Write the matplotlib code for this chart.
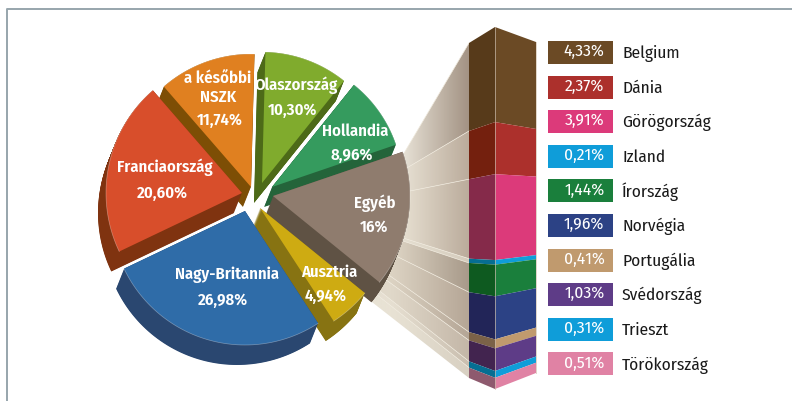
import numpy as np
import matplotlib
matplotlib.use('Agg')
import matplotlib.pyplot as plt
from matplotlib.colors import LinearSegmentedColormap
from matplotlib.patches import Polygon

plt.rcParams['font.family'] = ['Fira Sans Condensed', 'Noto Sans', 'DejaVu Sans']

# main pie, counter clockwise from the top
pie_names = ['a későbbi\nNSZK', 'Franciaország', 'Nagy-Britannia', 'Ausztria', 'Egyéb', 'Hollandia', 'Olaszország']
pie_values = [11.74, 20.60, 26.98, 4.94, 16, 8.96, 10.30]
pie_labels = ['11,74%', '20,60%', '26,98%', '4,94%', '16%', '8,96%', '10,30%']
pie_colors = ['#e08020', '#d84e2b', '#2f6ca8', '#ceab12', '#8f7c6e', '#359b5e', '#80ab2d']
side_colors = ['#7d4e05', '#7f3310', '#2a4770', '#877312', '#5f5244', '#24643a', '#4d6a18']

# breakdown of the "Egyéb" slice
other_names = ['Belgium', 'Dánia', 'Görögország', 'Izland', 'Írország', 'Norvégia', 'Portugália', 'Svédország', 'Trieszt', 'Törökország']
other_values = [4.33, 2.37, 3.91, 0.21, 1.44, 1.96, 0.41, 1.03, 0.31, 0.51]
other_labels = ['4,33%', '2,37%', '3,91%', '0,21%', '1,44%', '1,96%', '0,41%', '1,03%', '0,31%', '0,51%']
other_colors = ['#6b4a25', '#ac302c', '#dc3a7a', '#0f9dd9', '#1a7f3c', '#2c4285', '#c09a6e', '#5e3c87', '#0f9dd9', '#e082a4']
other_dark = ['#573a1a', '#74200e', '#852a4a', '#066e92', '#0e5a20', '#222558', '#7b6248', '#42244f', '#066e92', '#8e5a6e']
fan_starts = ['#f3efe4', '#efeadd', '#eee8da', '#e8e2d4', '#dfd6c6', '#dcd3c3', '#dcd3c3', '#e0d8c9', '#e6dfd1', '#e8e2d4']
fan_ends = ['#a39384', '#bbac9c', '#bbac9c', '#d5ccbd', '#a89a8a', '#b5a696', '#b5a696', '#c4b7a8', '#cabfb0', '#d8d0c2']

# layout, in picture pixels
apex = [(251, 187), (242, 193), (245, 211), (260, 208), (273, 196), (272, 187), (262, 183)]
radii = [133, 136, 134, 135, 137, 131, 131]
label_pos = [(220, 120), (162, 193), (223, 300), (326, 296), (374, 227), (352, 155), (293, 110)]
name_pos = [(218, 88), (165, 167), (227, 275), (329, 272), (375, 203), (355, 131), (296, 85)]
draw_order = [6, 0, 5, 1, 4, 3, 2]
depth = (-8, 20)
start_angle = 88.5
# where each fan line crosses x=400
fan_y400 = [160, 172, 193, 237, 240, 258, 283, 290, 307, 313, 324]


def wedge(center, t1, t2, r):
    t = np.radians(np.linspace(t1, t2, 60))
    xs = np.r_[center[0], center[0] + r * np.cos(t)]
    ys = np.r_[center[1], center[1] - r * np.sin(t)]
    return xs, ys


fig = plt.figure(figsize=(7.92, 4.01), dpi=100)
ax = fig.add_axes([0, 0, 1, 1])
ax.axis('off')

edges = start_angle + np.r_[0, np.cumsum(pie_values)] / np.sum(pie_values) * 360

# column, three vertical lines with the corners going up/down
col_left, col_mid, col_right = 469, 495, 536
frac = np.r_[0, np.cumsum(other_values)] / np.sum(other_values)
y_left = 43 + (378 - 43) * frac
y_mid = 27 + (389 - 27) * frac
y_right = 42 + (373 - 42) * frac

# fan between the slice and the column
fan_x0 = 372
fan_slope = (y_left - np.array(fan_y400)) / (col_left - 400)
fan_y0 = np.array(fan_y400) + (fan_x0 - 400) * fan_slope
for i in range(len(other_values)):
    pts = np.array([(fan_x0, fan_y0[i]), (fan_x0, fan_y0[i + 1]), (col_left, y_left[i + 1]), (col_left, y_left[i])])
    cmap = LinearSegmentedColormap.from_list('fan', [fan_starts[i], fan_ends[i]])
    grad = np.clip(np.linspace(-0.25, 1, 128), 0, 1).reshape(1, -1)
    im = ax.imshow(grad, cmap=cmap, vmin=0, vmax=1, aspect='auto', extent=(fan_x0, col_left, 401, 0), zorder=1)
    im.set_clip_path(Polygon(pts, transform=ax.transData))
    ax.plot(pts[[0, 3], 0], pts[[0, 3], 1], color='#efe9dc', lw=0.5, zorder=1.5)

for i in range(len(other_values)):
    ax.fill([col_left, col_mid, col_mid, col_left],
            [y_left[i], y_mid[i], y_mid[i + 1], y_left[i + 1]], color=other_dark[i], lw=0, zorder=2)
    ax.fill([col_mid, col_right, col_right, col_mid],
            [y_mid[i], y_right[i], y_right[i + 1], y_mid[i + 1]], color=other_colors[i], lw=0, zorder=2)
ax.plot([col_mid, col_mid], [y_mid[0], y_mid[-1]], color='#c8b8a8', lw=0.5, zorder=3)
ax.plot([col_right, col_right], [y_right[0], y_right[-1]], color='#e0d5c8', lw=0.7, zorder=3)

# pie slices, with the thick side faces first
z = 4
for i in draw_order:
    for k in np.linspace(1, 0, 40):
        xs, ys = wedge((apex[i][0] + k * depth[0], apex[i][1] + k * depth[1]), edges[i], edges[i + 1], radii[i])
        ax.fill(xs, ys, color=side_colors[i], lw=0, zorder=z)
    xs, ys = wedge(apex[i], edges[i], edges[i + 1], radii[i])
    ax.fill(xs, ys, color=pie_colors[i], lw=0, zorder=z + 1)
    ax.plot(xs[1:], ys[1:], color='white', alpha=0.35, lw=0.5, zorder=z + 1)
    z += 2

# pie labels
for i in range(len(pie_values)):
    ax.text(name_pos[i][0], name_pos[i][1], pie_names[i], color='white', fontsize=12, fontweight=600,
            ha='center', va='center', linespacing=1.25, zorder=30)
    ax.text(label_pos[i][0], label_pos[i][1], pie_labels[i], color='white', fontsize=12, fontweight=600,
            ha='center', va='center', zorder=30)

# legend
for i in range(len(other_values)):
    y = 52.5 + i * 34.6
    ax.fill([548, 613, 613, 548], [y - 11.5, y - 11.5, y + 11.5, y + 11.5], color=other_colors[i], lw=0, zorder=3)
    ax.text(604.5, y - 1, other_labels[i], color='white', fontsize=12.5, ha='right', va='center', zorder=30)
    ax.text(622, y + 1, other_names[i], color='#1a1a1a', fontsize=12.5, ha='left', va='center', zorder=30)

# frame
ax.plot([6.5, 6.5, 792], [401, 8.5, 8.5], color='#97a5ac', lw=1.4, zorder=0)

ax.set_xlim(0, 792)
ax.set_ylim(401, 0)
fig.savefig('out.png', dpi=100)
